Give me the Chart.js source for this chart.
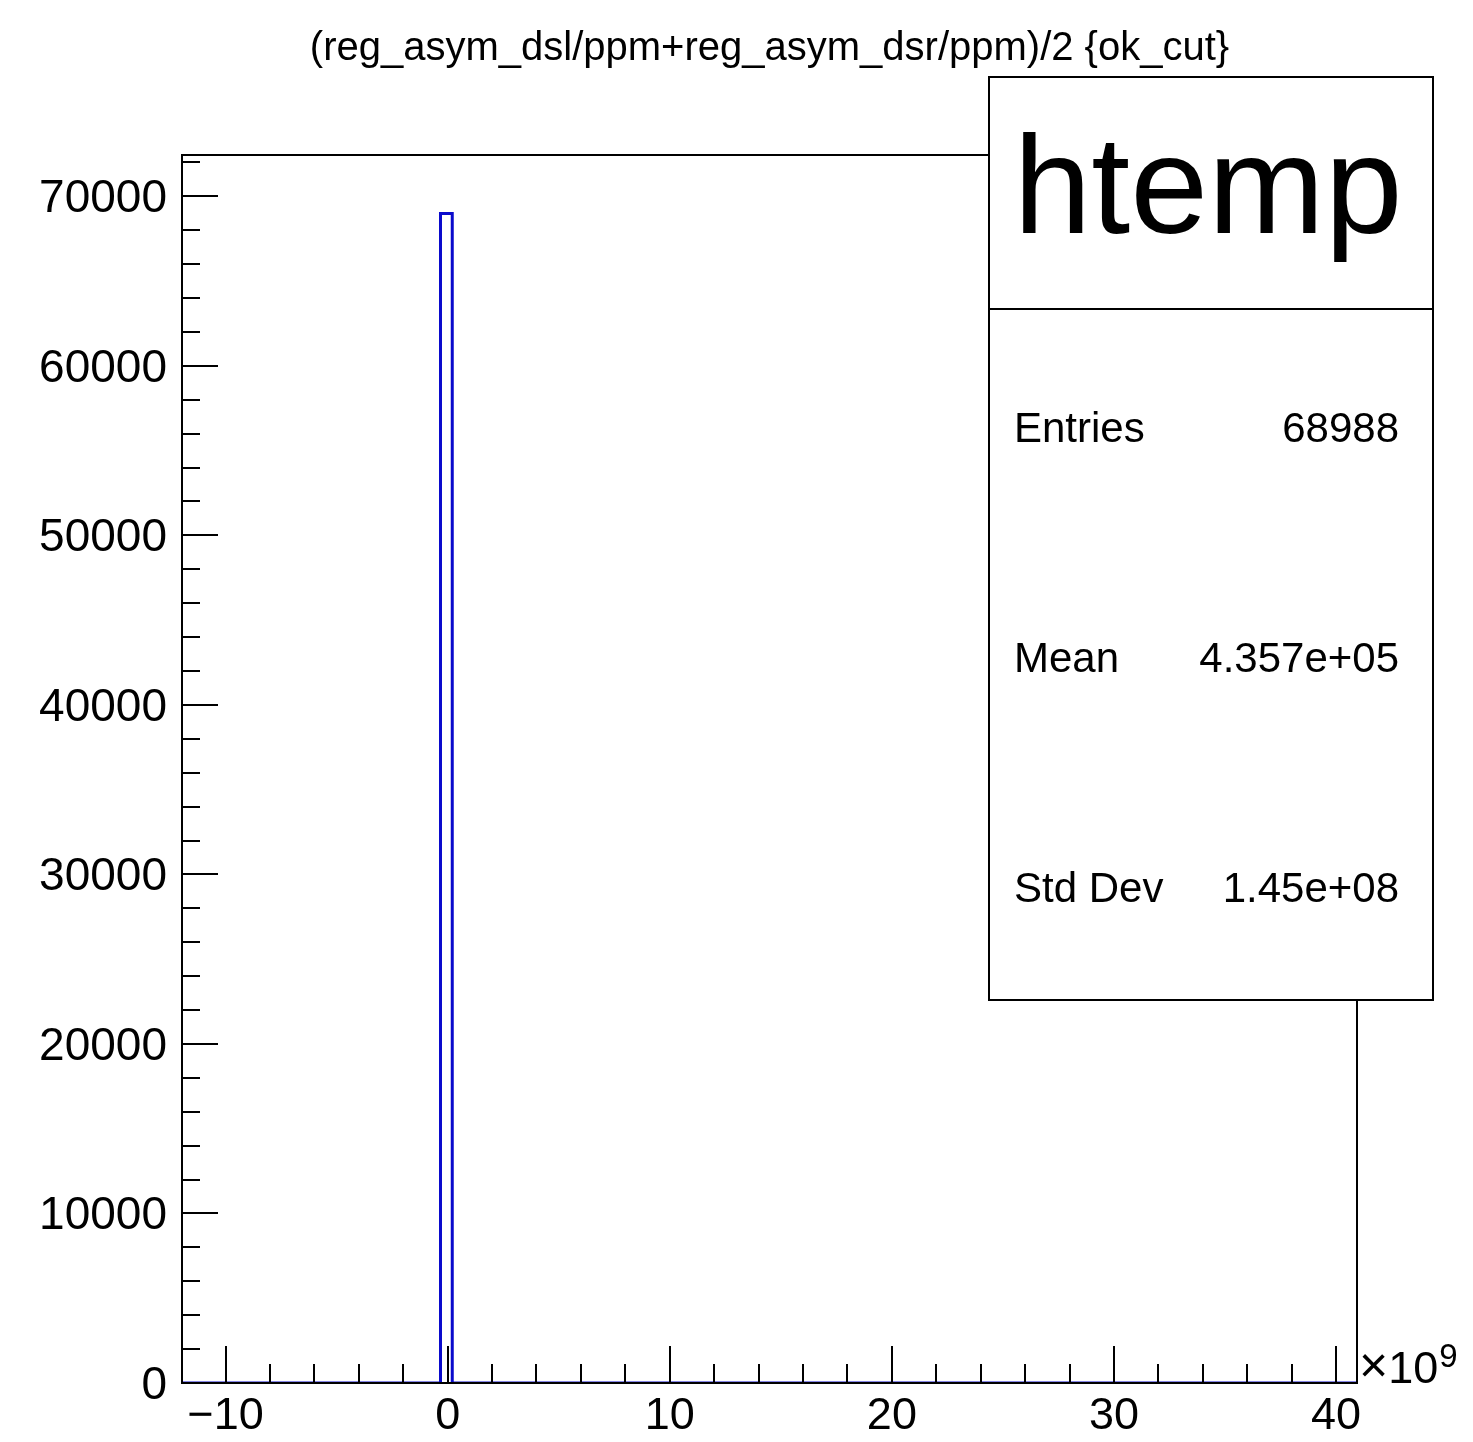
<!DOCTYPE html>
<html>
<head>
<meta charset="utf-8">
<title>htemp</title>
<script src="https://cdn.jsdelivr.net/npm/chart.js@4/dist/chart.umd.min.js"></script>
<style>
  html, body { margin: 0; padding: 0; background: #fff; }
  #wrap { width: 1473px; height: 1442px; position: relative; }
</style>
</head>
<body>
<div id="wrap"><canvas id="histChart"></canvas></div>
<script>
  // histogram binning (x in units of 1e9)
  var xLow = -11.96;
  var binWidth = 0.529;
  var binCounts = [
    0, 0, 0, 0, 0, 0, 0, 0, 0, 0,
    0, 0, 0, 0, 0, 0, 0, 0, 0, 0,
    0, 0, 68988, 0, 0, 0, 0, 0, 0, 0,
    0, 0, 0, 0, 0, 0, 0, 0, 0, 0,
    0, 0, 0, 0, 0, 0, 0, 0, 0, 0,
    0, 0, 0, 0, 0, 0, 0, 0, 0, 0,
    0, 0, 0, 0, 0, 0, 0, 0, 0, 0,
    0, 0, 0, 0, 0, 0, 0, 0, 0, 0,
    0, 0, 0, 0, 0, 0, 0, 0, 0, 0,
    0, 0, 0, 0, 0, 0, 0, 0, 0, 0
  ];
  var yMax = 72437;

  // tick positions (major ones carry labels)
  var xTicks = [-10, -8, -6, -4, -2, 0, 2, 4, 6, 8, 10, 12, 14, 16, 18, 20,
    22, 24, 26, 28, 30, 32, 34, 36, 38, 40];
  var xMajor = [-10, 0, 10, 20, 30, 40];
  var yTicks = [0, 2000, 4000, 6000, 8000, 10000, 12000, 14000, 16000, 18000,
    20000, 22000, 24000, 26000, 28000, 30000, 32000, 34000, 36000, 38000,
    40000, 42000, 44000, 46000, 48000, 50000, 52000, 54000, 56000, 58000,
    60000, 62000, 64000, 66000, 68000, 70000, 72000];
  var yMajor = [0, 10000, 20000, 30000, 40000, 50000, 60000, 70000];

  var titleText = "(reg_asym_dsl/ppm+reg_asym_dsr/ppm)/2 {ok_cut}";
  var histName = "htemp";
  var statLabels = ["Entries", "Mean", "Std Dev"];
  var statValues = ["68988", "4.357e+05", "1.45e+08"];

  var FONT = '"Liberation Sans", Arial, Helvetica, sans-serif';
  Chart.defaults.font.family = FONT;
  Chart.defaults.color = "#000";

  function buildPoints() {
    var pts = [];
    for (var i = 0; i < binCounts.length; i++) {
      pts.push({ x: xLow + i * binWidth, y: binCounts[i] });
    }
    pts.push({ x: xLow + binCounts.length * binWidth, y: 0 });
    return pts;
  }

  function setTicks(values) {
    return function (scale) {
      scale.ticks = values.map(function (v) { return { value: v }; });
    };
  }

  var rootFrame = {
    id: "rootFrame",
    afterDraw: function (chart) {
      var ctx = chart.ctx;
      var a = chart.chartArea;
      var xs = chart.scales.x;
      var ys = chart.scales.y;

      ctx.save();
      ctx.strokeStyle = "#000";
      ctx.lineWidth = 2;

      // frame
      ctx.strokeRect(a.left, a.top, a.right - a.left, a.bottom - a.top);

      // inward tick marks
      ctx.beginPath();
      xs.ticks.forEach(function (t) {
        var px = Math.round(xs.getPixelForValue(t.value));
        var len = xMajor.indexOf(t.value) >= 0 ? 37 : 19;
        ctx.moveTo(px, a.bottom);
        ctx.lineTo(px, a.bottom - len);
      });
      ys.ticks.forEach(function (t) {
        var py = Math.round(ys.getPixelForValue(t.value));
        var len = yMajor.indexOf(t.value) >= 0 ? 36 : 18;
        ctx.moveTo(a.left, py);
        ctx.lineTo(a.left + len, py);
      });
      ctx.stroke();

      // axis exponent
      ctx.fillStyle = "#000";
      ctx.textAlign = "left";
      ctx.textBaseline = "alphabetic";
      ctx.font = "50px " + FONT;
      ctx.fillText("\u00d7", a.right + 2, a.bottom - 1);
      var w = ctx.measureText("\u00d7").width;
      ctx.font = "45px " + FONT;
      ctx.fillText("10", a.right + 2 + w, a.bottom);
      var w2 = ctx.measureText("10").width;
      ctx.font = "33px " + FONT;
      ctx.fillText("9", a.right + 2 + w + w2 + 1, a.bottom - 16);

      // title
      ctx.font = "40px " + FONT;
      ctx.textAlign = "center";
      ctx.fillText(titleText, (a.left + a.right) / 2, 60);

      // stats box
      var bx = 989, by = 77, bw = 444, bh = 923;
      ctx.fillStyle = "#fff";
      ctx.fillRect(bx, by, bw, bh);
      ctx.strokeRect(bx, by, bw, bh);
      ctx.beginPath();
      ctx.moveTo(bx, 309);
      ctx.lineTo(bx + bw, 309);
      ctx.stroke();

      ctx.fillStyle = "#000";
      ctx.font = "140px " + FONT;
      ctx.textAlign = "center";
      ctx.fillText(histName, bx + bw / 2 - 3, 233);

      ctx.font = "42px " + FONT;
      for (var i = 0; i < statLabels.length; i++) {
        var base = 442 + i * 230;
        ctx.textAlign = "left";
        ctx.fillText(statLabels[i], 1014, base);
        ctx.textAlign = "right";
        ctx.fillText(statValues[i], 1399, base);
      }
      ctx.restore();
    }
  };

  var ctx = document.getElementById("histChart").getContext("2d");
  new Chart(ctx, {
    type: "line",
    data: {
      datasets: [{
        label: histName,
        data: buildPoints(),
        stepped: "before",
        borderColor: "#0a0acc",
        borderWidth: 3,
        pointRadius: 0,
        fill: false
      }]
    },
    options: {
      responsive: true,
      maintainAspectRatio: false,
      animation: false,
      layout: { padding: { top: 155, right: 116, bottom: 0, left: 0 } },
      plugins: {
        legend: { display: false },
        title: { display: false },
        tooltip: { enabled: false }
      },
      scales: {
        x: {
          type: "linear",
          min: xLow,
          max: xLow + binCounts.length * binWidth,
          grid: { display: false, drawTicks: false },
          border: { display: false },
          afterBuildTicks: setTicks(xTicks),
          ticks: {
            autoSkip: false,
            maxRotation: 0,
            padding: 7,
            font: { size: 45 },
            color: "#000",
            callback: function (value) {
              if (xMajor.indexOf(value) < 0) return "";
              return value < 0 ? "\u2212" + Math.abs(value) : String(value);
            }
          },
          afterFit: function (scale) { scale.height = 59; }
        },
        y: {
          type: "linear",
          min: 0,
          max: yMax,
          grid: { display: false, drawTicks: false },
          border: { display: false },
          afterBuildTicks: setTicks(yTicks),
          ticks: {
            autoSkip: false,
            padding: 15,
            labelOffset: 3,
            font: { size: 46 },
            color: "#000",
            callback: function (value) {
              return yMajor.indexOf(value) >= 0 ? String(value) : "";
            }
          },
          afterFit: function (scale) { scale.width = 182; }
        }
      }
    },
    plugins: [rootFrame]
  });
</script>
</body>
</html>
